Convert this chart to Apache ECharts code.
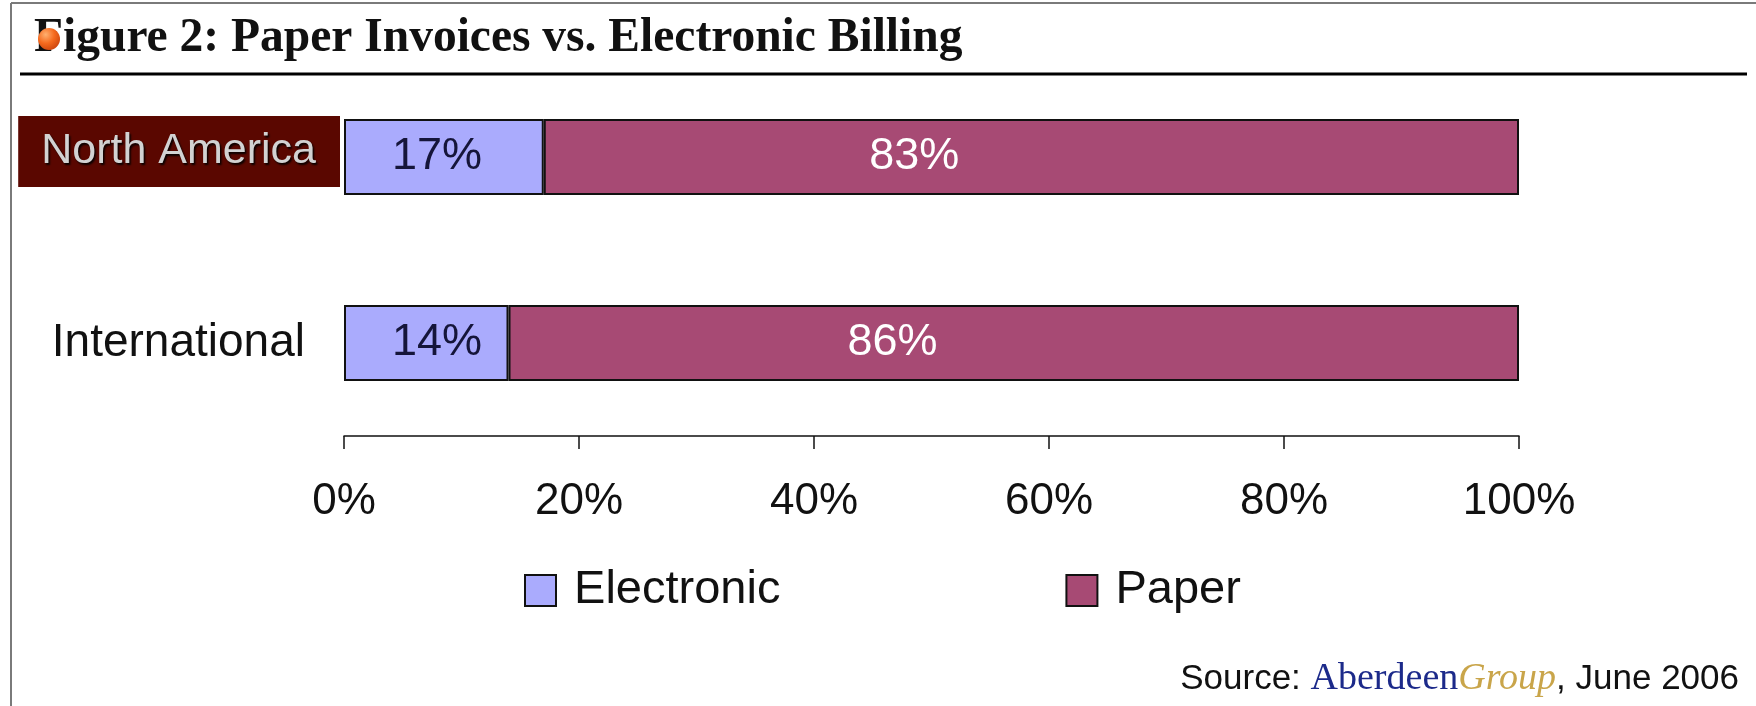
<!DOCTYPE html>
<html>
<head>
<meta charset="utf-8">
<script src="https://cdn.jsdelivr.net/npm/echarts@6/dist/echarts.min.js"></script>
<style>html,body{margin:0;padding:0;background:#fff;}#c{width:1756px;height:706px;}</style>
</head>
<body>
<div id="c"></div>
<script>
const categories = ['North America', 'International'];
const electronic = [17, 14];
const paper = [83, 86];
const seriesNames = ['Electronic', 'Paper'];
const tickValues = [0, 20, 40, 60, 80, 100];
const titleText = 'Figure 2: Paper Invoices vs. Electronic Billing';

const chart = echarts.init(document.getElementById('c'));
const sans = 'Liberation Sans, Arial, sans-serif';
const serif = 'Liberation Serif, Times New Roman, serif';

chart.setOption({
  backgroundColor: '#ffffff',
  animation: false,
  grid: { left: 344, right: 237, top: 64, bottom: 270, containLabel: false },
  xAxis: {
    type: 'value', min: tickValues[0], max: tickValues[tickValues.length - 1], interval: 20,
    position: 'bottom',
    axisLine: { show: true, lineStyle: { color: '#111', width: 1.5 } },
    axisTick: { show: true, length: 13, lineStyle: { color: '#111', width: 1.5 } },
    splitLine: { show: false },
    axisLabel: { formatter: v => v + '%', fontSize: 44, color: '#111', fontFamily: sans, margin: 44 }
  },
  yAxis: {
    type: 'category', data: categories, inverse: true,
    axisLine: { show: false }, axisTick: { show: false },
    axisLabel: {
      margin: 4,
      formatter: v => v === 'North America' ? '{na|' + v + '}\n{sp|}' : '{intl|' + v + '}',
      rich: {
        na: {
          backgroundColor: '#5a0700', color: '#d2d2d2', fontSize: 43, fontFamily: sans,
          padding: [14, 24, 14, 23], lineHeight: 43,
          textShadowColor: 'rgba(0,0,0,0.9)', textShadowBlur: 2, textShadowOffsetX: 1.5, textShadowOffsetY: 1.5
        },
        sp: { lineHeight: 11, fontSize: 1 },
        intl: { color: '#111', fontSize: 46, fontFamily: sans, padding: [0, 35, 0, 0] }
      }
    }
  },
  legend: {
    data: seriesNames, left: 519, top: 562, itemWidth: 31, itemHeight: 31, itemGap: 285,
    icon: 'rect',
    formatter: n => ' ' + n,
    textStyle: { fontSize: 47, color: '#111', fontFamily: sans }
  },
  series: [
    {
      name: seriesNames[0], type: 'bar', stack: 'total', data: electronic, barWidth: 76,
      itemStyle: { color: '#aaabfd', borderColor: '#111', borderWidth: 2 },
      label: { show: true, position: [93, '50%'], align: 'center', verticalAlign: 'middle', formatter: p => p.value + '%', fontSize: 45, color: '#15153a', fontFamily: sans }
    },
    {
      name: seriesNames[1], type: 'bar', stack: 'total', data: paper, barWidth: 76,
      itemStyle: { color: '#a74a74', borderColor: '#111', borderWidth: 2 },
      label: { show: true, position: ['38%', '50%'], align: 'center', verticalAlign: 'middle', formatter: p => p.value + '%', fontSize: 45, color: '#ffffff', fontFamily: sans }
    }
  ],
  graphic: [
    { type: 'line', shape: { x1: 11, y1: 3, x2: 1756, y2: 3 }, style: { stroke: '#7a7a7a', lineWidth: 2 } },
    { type: 'line', shape: { x1: 11, y1: 3, x2: 11, y2: 706 }, style: { stroke: '#7a7a7a', lineWidth: 2 } },
    { type: 'line', shape: { x1: 20, y1: 74, x2: 1747, y2: 74 }, style: { stroke: '#000', lineWidth: 3 } },
    { type: 'text', left: 34, top: 15, style: { text: titleText, font: 'bold 47.5px ' + serif, fill: '#111' } },
    { type: 'circle', shape: { cx: 49, cy: 39, r: 11 }, style: {
        fill: { type: 'radial', x: 0.35, y: 0.3, r: 0.8, colorStops: [{ offset: 0, color: '#ffb070' }, { offset: 0.5, color: '#f56a1e' }, { offset: 1, color: '#c8400a' }] } } },
    { type: 'text', right: 17, top: 660, style: {
        text: '{a|Source: }{b|Aberdeen}{c|Group}{a|, June 2006}',
        rich: {
          a: { fontFamily: sans, fontSize: 35, fill: '#111', color: '#111' },
          b: { fontFamily: serif, fontSize: 38, fill: '#1c2a8a', color: '#1c2a8a' },
          c: { fontFamily: serif, fontStyle: 'italic', fontSize: 38, fill: '#c9a54a', color: '#c9a54a' }
        }
      } }
  ]
});
</script>
</body>
</html>
